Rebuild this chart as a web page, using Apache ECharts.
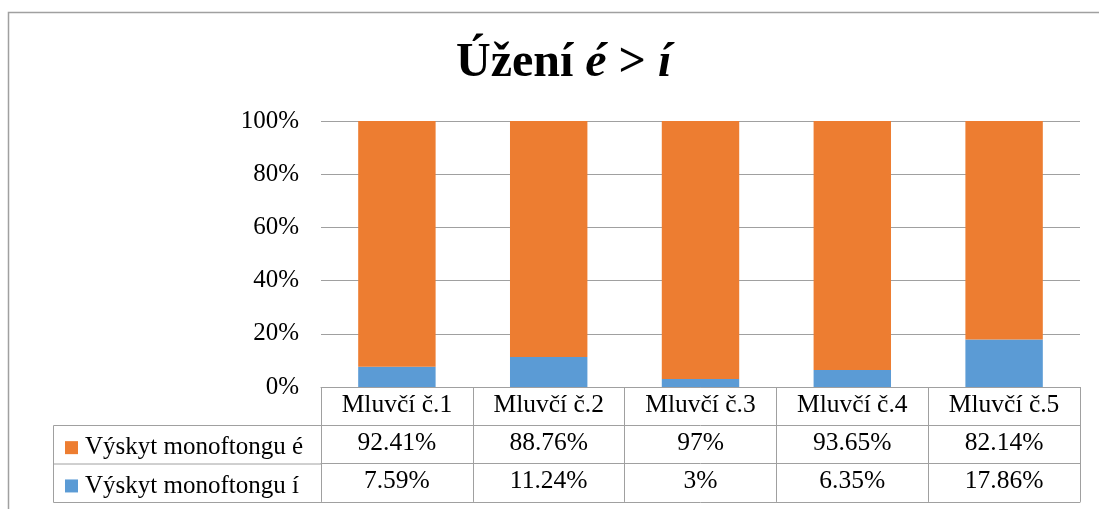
<!DOCTYPE html>
<html>
<head>
<meta charset="utf-8">
<script src="https://cdn.jsdelivr.net/npm/echarts@6/dist/echarts.min.js"></script>
<style>
  html, body { margin: 0; padding: 0; background: #fff; }
</style>
</head>
<body>
<div id="myChart" style="width: 1099px;height:509px;"></div>
<script>
  // data
  var speakers = ['Mluvčí č.1', 'Mluvčí č.2', 'Mluvčí č.3', 'Mluvčí č.4', 'Mluvčí č.5'];
  var valuesE = [92.41, 88.76, 97, 93.65, 82.14];
  var valuesI = [7.59, 11.24, 3, 6.35, 17.86];
  var nameE = 'Výskyt monoftongu é';
  var nameI = 'Výskyt monoftongu í';

  var font = 'Liberation Serif';
  var lineColor = '#a0a0a0';
  var rowH = 38.3;

  const myChart = echarts.init(document.getElementById('myChart'));

  // one x axis per table row (header, é row, í row, closing line)
  function tableAxis(offset, values, showLabel) {
    return {
      type: 'category',
      data: speakers,
      position: 'bottom',
      offset: offset,
      axisLine: { show: true, lineStyle: { color: lineColor, width: 1 } },
      axisTick: { show: false },
      axisLabel: {
        show: showLabel,
        interval: 0,
        margin: rowH / 2 - 1,
        verticalAlign: 'middle',
        fontFamily: font,
        fontSize: 25.5,
        color: '#000',
        formatter: function (v, i) { return values ? values[i] + '%' : v; }
      }
    };
  }

  var headerAxis = tableAxis(0, null, true);
  headerAxis.axisTick = {
    show: true,
    interval: 0,
    length: rowH * 3,
    lineStyle: { color: lineColor, width: 1 }
  };

  let option = {
    title: {
      left: 451,
      top: 35,
      text: '{b|Úžení }{i|é}{b| > }{i|í}',
      textStyle: {
        rich: {
          b: { fontFamily: font, fontSize: 48, fontWeight: 'bold', color: '#000' },
          i: { fontFamily: font, fontSize: 48, fontWeight: 'bold', fontStyle: 'italic', color: '#000' }
        }
      }
    },
    legend: {
      orient: 'vertical',
      left: 60,
      top: 425 + rowH / 2 - 14,
      itemWidth: 13,
      itemHeight: 13,
      itemGap: rowH - 25,
      icon: 'rect',
      data: [nameE, nameI],
      selectedMode: false,
      textStyle: { fontFamily: font, fontSize: 25, color: '#000', lineHeight: 25, padding: [0, 0, 0, 2] }
    },
    grid: { left: 321, right: 19, top: 121, bottom: 122 },
    xAxis: [
      headerAxis,
      tableAxis(rowH, valuesE, true),
      tableAxis(rowH * 2, valuesI, true),
      tableAxis(rowH * 3, null, false)
    ],
    yAxis: {
      type: 'value',
      min: 0,
      max: 100,
      interval: 20,
      axisLine: { show: false },
      axisTick: { show: false },
      axisLabel: {
        margin: 22,
        fontFamily: font,
        fontSize: 25,
        color: '#000',
        formatter: '{value}%'
      },
      splitLine: { lineStyle: { color: lineColor, width: 1 } }
    },
    series: [
      {
        name: nameI,
        type: 'bar',
        stack: 'total',
        barWidth: '51%',
        data: valuesI,
        itemStyle: { color: '#5B9BD5' }
      },
      {
        name: nameE,
        type: 'bar',
        stack: 'total',
        barWidth: '51%',
        data: valuesE,
        itemStyle: { color: '#ED7D31' }
      }
    ],
    graphic: [
      // outer frame
      {
        type: 'polyline',
        shape: { points: [[8.5, 509], [8.5, 12.5], [1099, 12.5]] },
        style: { stroke: lineColor, fill: null, lineWidth: 1.5 }
      },
      // left part of the data table
      {
        type: 'polyline',
        shape: { points: [[321, 425.5], [53.5, 425.5], [53.5, 502.5], [321, 502.5]] },
        style: { stroke: lineColor, fill: null, lineWidth: 1 }
      },
      {
        type: 'line',
        shape: { x1: 53.5, y1: 464, x2: 321, y2: 464 },
        style: { stroke: lineColor, lineWidth: 1 }
      }
    ]
  };
  myChart.setOption(option);
</script>
</body>
</html>
